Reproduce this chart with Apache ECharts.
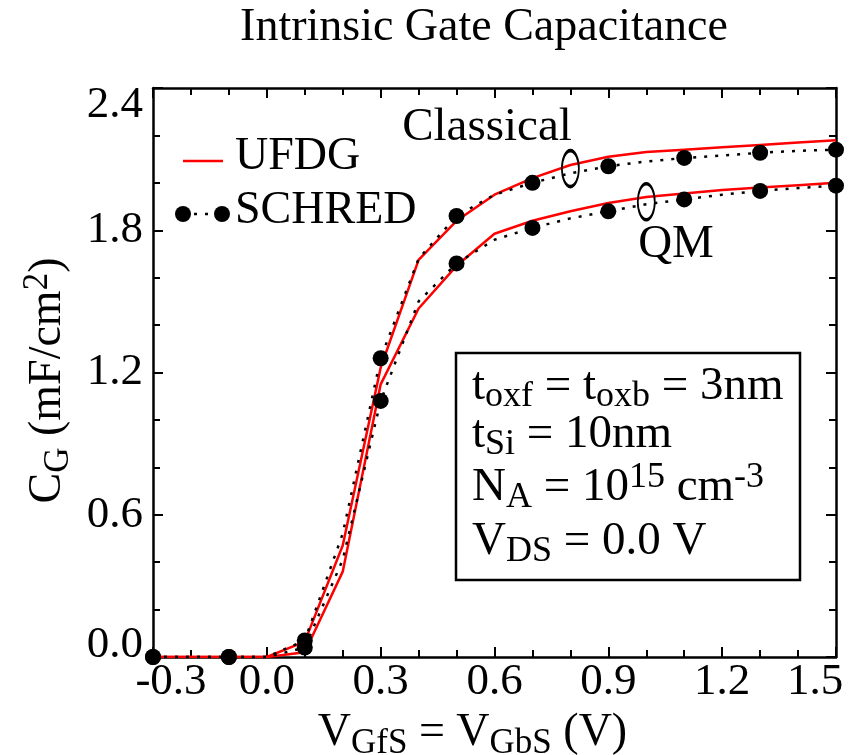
<!DOCTYPE html>
<html>
<head>
<meta charset="utf-8">
<script src="https://cdn.jsdelivr.net/npm/echarts@6/dist/echarts.min.js"></script>
<style>
html, body { margin: 0; padding: 0; background: #fff; }
#chart { width: 859px; height: 755px; }
</style>
</head>
<body>
<div id="chart"></div>
<script>
const FONT = '"Liberation Serif", "Times New Roman", serif';

// gate voltage (V) and C_G (mF/cm2)
const vgUfdg = [-0.3, -0.2, -0.1, 0.0, 0.1, 0.2, 0.3, 0.4, 0.5, 0.6, 0.7, 0.8, 0.9, 1.0, 1.1, 1.2, 1.3, 1.4, 1.5];
const ufdgClassical = [0, 0, 0, 0, 0.065, 0.47, 1.22, 1.675, 1.84, 1.95, 2.02, 2.075, 2.11, 2.13, 2.14, 2.15, 2.16, 2.17, 2.18];
const ufdgQM = [0, 0, 0, 0, 0.02, 0.36, 1.15, 1.47, 1.65, 1.785, 1.84, 1.88, 1.915, 1.94, 1.955, 1.97, 1.98, 1.99, 2.0];

const vgSchred = [-0.3, -0.1, 0.0, 0.1, 0.2, 0.3, 0.4, 0.5, 0.6, 0.7, 0.8, 0.9, 1.0, 1.1, 1.2, 1.3, 1.4, 1.5];
const schredClassical = [0, 0, 0, 0.07, 0.52, 1.26, 1.68, 1.86, 1.95, 2.00, 2.04, 2.07, 2.09, 2.105, 2.115, 2.127, 2.135, 2.14];
const schredQM = [0, 0, 0, 0.04, 0.41, 1.08, 1.50, 1.66, 1.76, 1.81, 1.85, 1.88, 1.91, 1.93, 1.95, 1.966, 1.978, 1.988];
// only these SCHRED points get a dot
const schredMarked = [-0.3, -0.1, 0.1, 0.3, 0.5, 0.7, 0.9, 1.1, 1.3, 1.5];

// ellipses marking the two curve families
const ellipseClassical = [0.8, 2.06];
const ellipseQM = [1.0, 1.92];

const xMin = -0.3, xMax = 1.5, xStep = 0.3;
const yMin = 0, yMax = 2.4, yStep = 0.6;

const pairs = (xs, ys) => xs.map((x, i) => [x, ys[i]]);
const isMarked = v => schredMarked.some(m => Math.abs(m - v[0]) < 1e-6);

// rich text: m = main, s = subscript, p = superscript
const makeRich = (main, small) => ({
  m: { fontFamily: FONT, fontSize: main, lineHeight: 56, color: '#000' },
  s: { fontFamily: FONT, fontSize: small, lineHeight: 28, verticalAlign: 'bottom', color: '#000' },
  p: { fontFamily: FONT, fontSize: small, lineHeight: 28, verticalAlign: 'top', color: '#000' }
});
const boxRich = makeRich(47, 36);
const nameRich = makeRich(46, 35);
const lbl = { fontFamily: FONT, fontSize: 45, color: '#000' };

const ellipse = (coord) => ({
  symbol: 'circle',
  symbolSize: [17, 36],
  silent: true,
  label: { show: false },
  itemStyle: { color: 'rgba(0,0,0,0)', borderColor: '#000', borderWidth: 2.5 },
  data: [{ coord }]
});

const redLine = (name, ys, mark) => ({
  name, type: 'line', data: pairs(vgUfdg, ys), symbol: 'none', z: 2,
  lineStyle: { color: '#ff0000', width: 2.5 },
  markPoint: ellipse(mark)
});

const dotLine = (name, ys) => ({
  name, type: 'line', data: pairs(vgSchred, ys), z: 3,
  symbol: 'circle', showAllSymbol: true,
  symbolSize: v => isMarked(v) ? 16 : 0,
  itemStyle: { color: '#000' },
  lineStyle: { color: '#000', width: 2.5, type: [3, 8] }
});

const axisCommon = {
  type: 'value',
  axisLine: { onZero: false, lineStyle: { color: '#000', width: 2.5 } },
  axisTick: { inside: true, length: 10, lineStyle: { color: '#000', width: 2 } },
  minorTick: { show: true, splitNumber: 3, length: 7, lineStyle: { color: '#000', width: 2 } },
  splitLine: { show: false }
};

const xAxisBase = Object.assign({}, axisCommon, { min: xMin, max: xMax, interval: xStep });
const yAxisBase = Object.assign({}, axisCommon, { min: yMin, max: yMax, interval: yStep });

const plainText = (x, y, text, size, align) => ({
  type: 'text', x, y,
  style: { text, font: size + 'px ' + FONT, fill: '#000',
           align, verticalAlign: 'middle', textAlign: align, textVerticalAlign: 'middle' }
});
const boxLine = (y, text) => ({
  type: 'text', x: 472, y, z: 11,
  style: { text, rich: boxRich, align: 'left', verticalAlign: 'middle', textAlign: 'left', textVerticalAlign: 'middle' }
});

const chart = echarts.init(document.getElementById('chart'));
chart.setOption({
  animation: false,
  backgroundColor: '#fff',
  grid: { left: 153, right: 23, top: 88, bottom: 98, outerBoundsMode: 'none' },
  xAxis: [
    Object.assign({}, xAxisBase, {
      position: 'bottom',
      axisLabel: {
        margin: 3,
        formatter: v => {
          if (Math.abs(v - xMin) < 1e-6) return '{first|' + v.toFixed(1) + '}';
          if (Math.abs(v - xMax) < 1e-6) return '{last|' + v.toFixed(1) + '}';
          return v.toFixed(1);
        },
        rich: {
          first: Object.assign({}, lbl, { padding: [0, 0, 0, 36] }),
          last: Object.assign({}, lbl, { padding: [0, 42, 0, 0] })
        },
        ...lbl
      },
      name: '{m|V}{s|GfS}{m| = V}{s|GbS}{m| (V)}',
      nameLocation: 'middle',
      nameGap: 38,
      nameTextStyle: { rich: nameRich, padding: [0, 44, 0, 0] }
    }),
    Object.assign({}, xAxisBase, { position: 'top', axisLabel: { show: false } })
  ],
  yAxis: [
    Object.assign({}, yAxisBase, {
      position: 'left',
      axisLabel: {
        margin: 10,
        formatter: v => {
          if (Math.abs(v - yMax) < 1e-6) return '{top|' + v.toFixed(1) + '}';
          if (Math.abs(v - yMin) < 1e-6) return '{bot|' + v.toFixed(1) + '}';
          return v.toFixed(1);
        },
        rich: {
          top: Object.assign({}, lbl, { padding: [34, 0, 0, 0] }),
          bot: Object.assign({}, lbl, { padding: [0, 0, 24, 0] })
        },
        ...lbl
      },
      name: '{m|C}{s|G}{m| (mF/cm}{p|2}{m|)}',
      nameLocation: 'middle',
      nameGap: 68,
      nameTextStyle: { rich: nameRich, padding: [0, 16, 0, 0] }
    }),
    Object.assign({}, yAxisBase, { position: 'right', axisLabel: { show: false } })
  ],
  series: [
    redLine('UFDG Classical', ufdgClassical, ellipseClassical),
    redLine('UFDG QM', ufdgQM, ellipseQM),
    dotLine('SCHRED Classical', schredClassical),
    dotLine('SCHRED QM', schredQM)
  ],
  graphic: [
    plainText(484, 28, 'Intrinsic Gate Capacitance', 46, 'center'),
    // legend
    { type: 'line', shape: { x1: 183, y1: 161, x2: 223, y2: 161 }, style: { stroke: '#ff0000', lineWidth: 2.5 } },
    plainText(235, 157, 'UFDG', 46, 'left'),
    { type: 'line', shape: { x1: 183, y1: 214, x2: 222, y2: 214 }, style: { stroke: '#000', lineWidth: 2.5, lineDash: [3, 8] } },
    { type: 'circle', shape: { cx: 183, cy: 214, r: 8 }, style: { fill: '#000' } },
    { type: 'circle', shape: { cx: 222, cy: 214, r: 8 }, style: { fill: '#000' } },
    plainText(235, 211, 'SCHRED', 46, 'left'),
    // curve family labels
    plainText(487, 128, 'Classical', 47, 'center'),
    plainText(676, 245, 'QM', 47, 'center'),
    // parameter box
    { type: 'rect', shape: { x: 456, y: 353, width: 344, height: 227 }, style: { fill: '#fff', stroke: '#000', lineWidth: 2.5 }, z: 10 },
    boxLine(387, '{m|t}{s|oxf}{m| = t}{s|oxb}{m| = 3nm}'),
    boxLine(435, '{m|t}{s|Si}{m| = 10nm}'),
    boxLine(488, '{m|N}{s|A}{m| = 10}{p|15}{m| cm}{p|-3}'),
    boxLine(542, '{m|V}{s|DS}{m| = 0.0 V}')
  ]
});
</script>
</body>
</html>
